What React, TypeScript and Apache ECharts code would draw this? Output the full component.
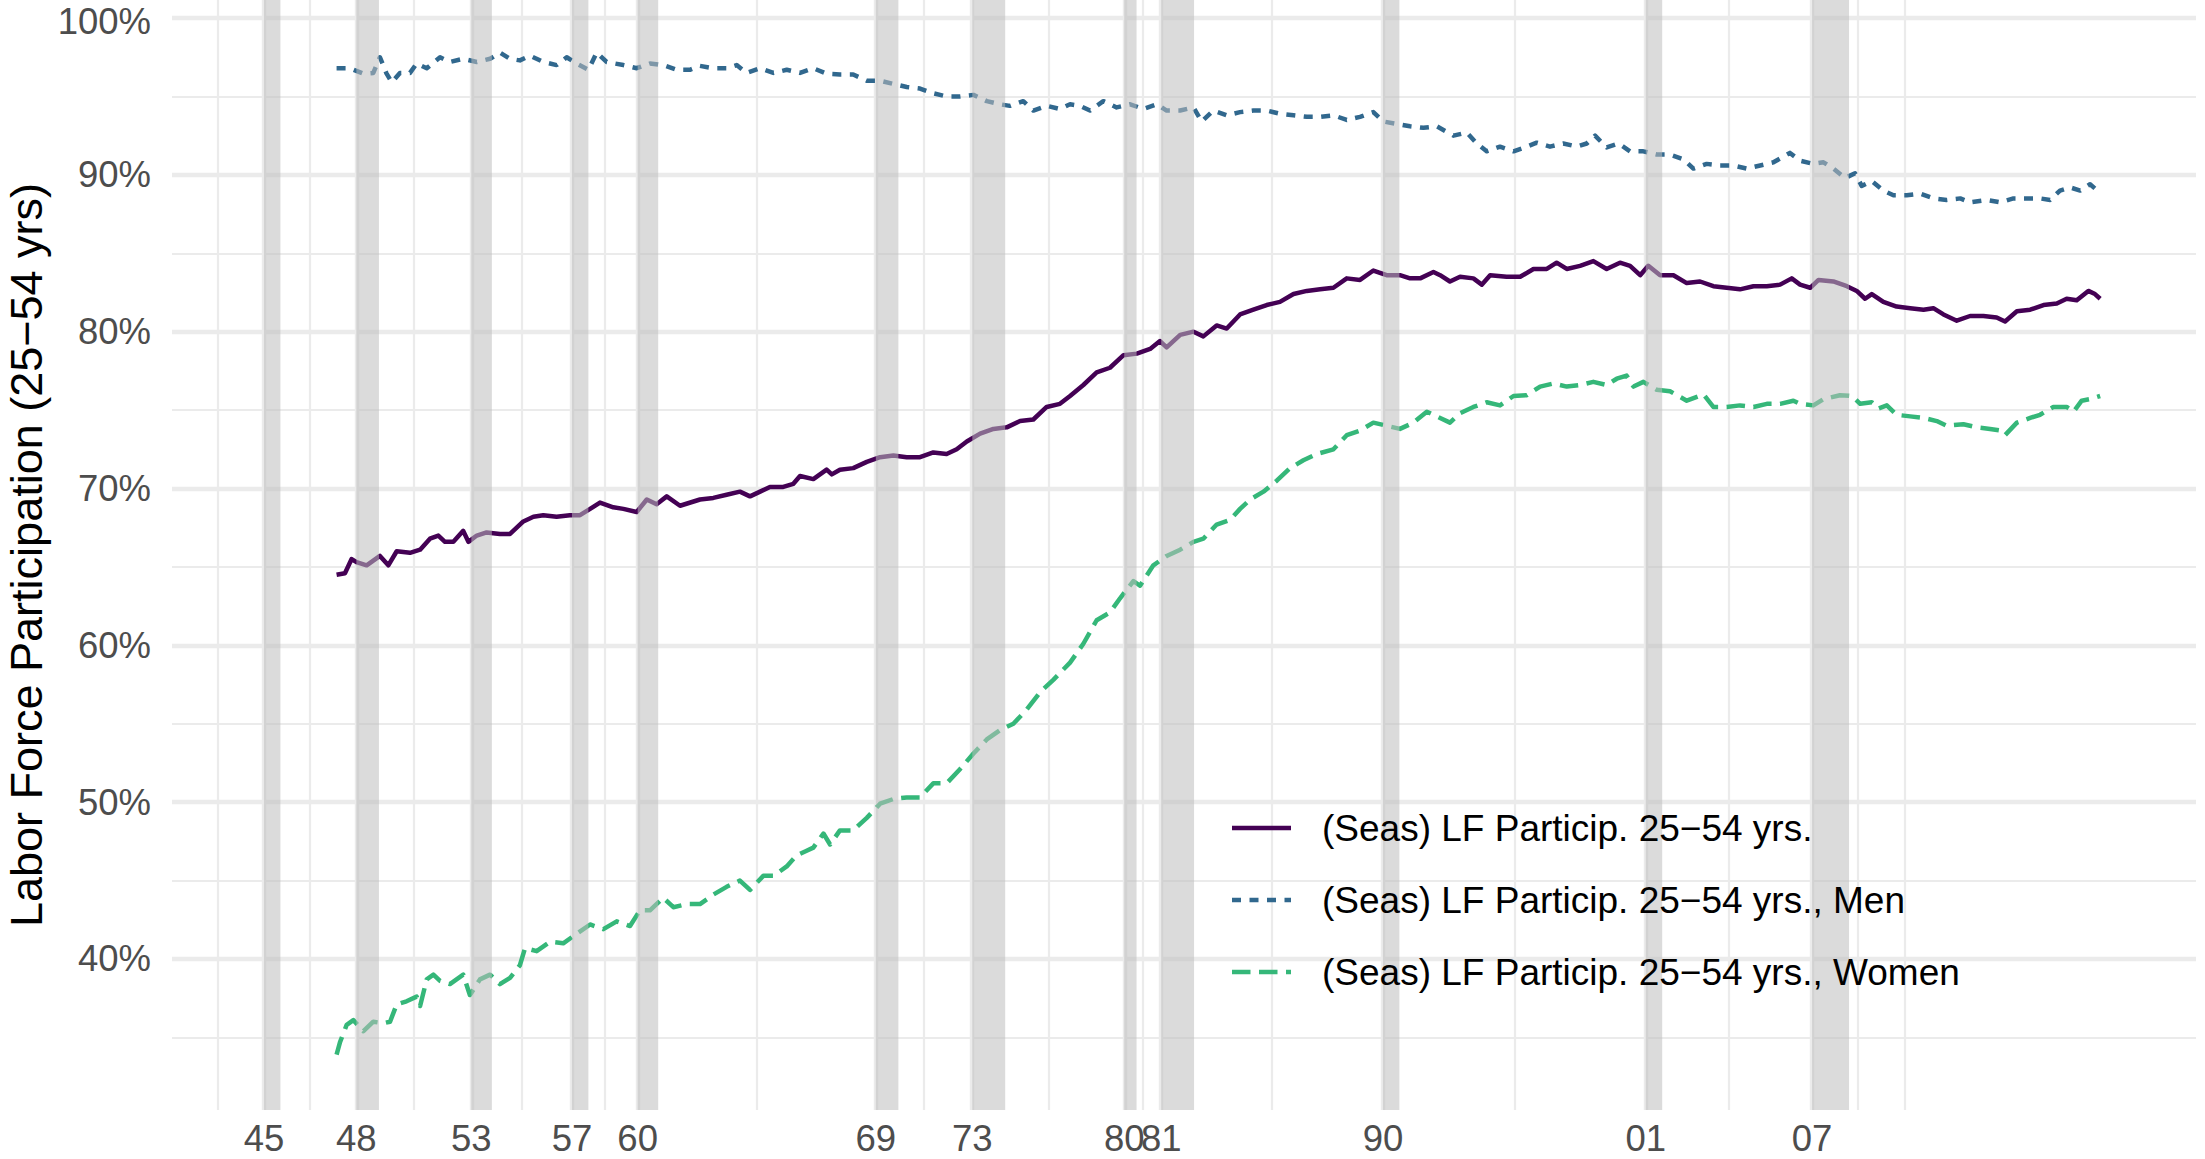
import React, { useEffect, useRef } from "react";
import * as echarts from "echarts";

// ---------- DATA ----------
const recessionStarts = [1945.083, 1948.833, 1953.5, 1957.583, 1960.25, 1969.917, 1973.833, 1980.0, 1981.5, 1990.5, 2001.167, 2007.917];
const recessionEnds = [1945.75, 1949.75, 1954.333, 1958.25, 1961.083, 1970.833, 1975.167, 1980.5, 1982.833, 1991.167, 2001.833, 2009.417];
const yMajorTicks = [40, 50, 60, 70, 80, 90, 100];
const yMinorTicks = [35, 45, 55, 65, 75, 85, 95];
const seriesNames = [
  "(Seas) LF Particip. 25\u221254 yrs.",
  "(Seas) LF Particip. 25\u221254 yrs., Men",
  "(Seas) LF Particip. 25\u221254 yrs., Women",
];
const yTitle = "Labor Force Participation (25\u221254 yrs)";

const totalData = [
  [1948.03, 64.5], [1948.37, 64.6], [1948.64, 65.5], [1948.84, 65.3], [1949.25, 65.1], [1949.79, 65.7], [1950.13, 65.1], [1950.47, 66.0], [1951.01, 65.9], [1951.42, 66.1], [1951.82, 66.8], [1952.16, 67.0], [1952.43, 66.6], [1952.77, 66.6], [1953.17, 67.3], [1953.38, 66.6], [1953.72, 67.0], [1954.12, 67.2], [1954.66, 67.1], [1955.07, 67.1], [1955.61, 67.9], [1956.02, 68.2], [1956.42, 68.3], [1956.96, 68.2], [1957.5, 68.3], [1957.91, 68.3], [1958.32, 68.7], [1958.72, 69.1], [1959.26, 68.8], [1959.67, 68.7], [1960.21, 68.5], [1960.62, 69.3], [1961.02, 69.0], [1961.43, 69.5], [1961.97, 68.9],
  [1962.78, 69.3], [1963.32, 69.4], [1963.86, 69.6], [1964.4, 69.8], [1964.81, 69.5], [1965.22, 69.8], [1965.62, 70.1], [1966.16, 70.1], [1966.57, 70.3], [1966.84, 70.8], [1967.38, 70.6], [1967.92, 71.2], [1968.13, 70.9], [1968.46, 71.2], [1969.0, 71.3], [1969.55, 71.7], [1970.09, 72.0], [1970.63, 72.1], [1971.17, 72.0], [1971.71, 72.0], [1972.25, 72.3], [1972.79, 72.2], [1973.2, 72.5], [1973.61, 73.0], [1974.15, 73.5], [1974.69, 73.8], [1975.23, 73.9], [1975.77, 74.3], [1976.31, 74.4], [1976.85, 75.2], [1977.39, 75.4],
  [1977.8, 75.9], [1978.34, 76.6], [1978.88, 77.4], [1979.42, 77.7], [1979.97, 78.5], [1980.51, 78.6], [1981.05, 78.9], [1981.45, 79.4], [1981.72, 79.0], [1982.27, 79.8], [1982.81, 80.0], [1983.21, 79.7], [1983.75, 80.4], [1984.16, 80.2], [1984.7, 81.1], [1985.24, 81.4], [1985.78, 81.7], [1986.32, 81.9], [1986.87, 82.4], [1987.41, 82.6], [1987.95, 82.7], [1988.49, 82.8], [1989.03, 83.4], [1989.57, 83.3], [1990.11, 83.9], [1990.65, 83.6], [1991.19, 83.6], [1991.6, 83.4], [1992.01, 83.4], [1992.55, 83.8],
  [1992.82, 83.6], [1993.22, 83.2], [1993.63, 83.5], [1994.17, 83.4], [1994.51, 83.0], [1994.85, 83.6], [1995.52, 83.5], [1996.07, 83.5], [1996.61, 84.0], [1997.15, 84.0], [1997.55, 84.4], [1997.96, 84.0], [1998.5, 84.2], [1999.04, 84.5], [1999.58, 84.0], [2000.12, 84.4], [2000.53, 84.2], [2000.94, 83.6], [2001.27, 84.2], [2001.75, 83.6], [2002.29, 83.6], [2002.83, 83.1], [2003.37, 83.2], [2003.91, 82.9], [2004.45, 82.8], [2004.99, 82.7], [2005.54, 82.9], [2006.08, 82.9], [2006.62, 83.0], [2007.09, 83.4],
  [2007.43, 83.0], [2007.84, 82.8], [2008.18, 83.3], [2008.78, 83.2], [2009.33, 82.9], [2009.73, 82.6], [2010.07, 82.1], [2010.34, 82.4], [2010.81, 81.9], [2011.35, 81.6], [2011.9, 81.5], [2012.44, 81.4], [2012.84, 81.5], [2013.25, 81.1], [2013.79, 80.7], [2014.33, 81.0], [2014.87, 81.0], [2015.41, 80.9], [2015.75, 80.65], [2016.23, 81.3], [2016.77, 81.4], [2017.31, 81.7], [2017.85, 81.8], [2018.25, 82.1], [2018.66, 82.0], [2019.13, 82.6], [2019.4, 82.4], [2019.61, 82.1],
];

const menData = [
  [1948.03, 96.8], [1948.57, 96.8], [1949.12, 96.45], [1949.52, 96.5], [1949.79, 97.5], [1950.06, 96.45], [1950.27, 95.9], [1950.6, 96.5], [1951.01, 96.5], [1951.28, 97.1], [1951.69, 96.8], [1952.23, 97.5], [1952.63, 97.2], [1953.17, 97.4], [1953.72, 97.2], [1954.26, 97.4], [1954.66, 97.8], [1955.07, 97.4], [1955.47, 97.3], [1955.88, 97.6], [1956.42, 97.2], [1956.96, 97.0], [1957.37, 97.5], [1957.77, 97.1], [1958.25, 96.7], [1958.59, 97.8], [1958.99, 97.2], [1959.67, 97.0], [1960.21, 96.8], [1960.75, 97.1], [1961.29, 97.0], [1961.83, 96.7], [1962.37, 96.7],
  [1962.78, 96.95], [1963.32, 96.8], [1963.86, 96.8], [1964.27, 97.0], [1964.67, 96.5], [1965.22, 96.8], [1965.76, 96.5], [1966.3, 96.7], [1966.84, 96.5], [1967.38, 96.8], [1967.92, 96.45], [1968.46, 96.4], [1969.0, 96.4], [1969.55, 96.0], [1970.09, 96.0], [1970.63, 95.8], [1971.17, 95.6], [1971.71, 95.5], [1972.25, 95.2], [1972.79, 95.0], [1973.33, 95.0], [1973.88, 95.1], [1974.42, 94.7], [1974.96, 94.5], [1975.36, 94.4], [1975.9, 94.7], [1976.31, 94.1], [1976.85, 94.4], [1977.39, 94.2],
  [1977.8, 94.5], [1978.21, 94.4], [1978.61, 94.1], [1979.15, 94.7], [1979.69, 94.3], [1980.24, 94.5], [1980.78, 94.2], [1981.32, 94.5], [1981.72, 94.1], [1982.27, 94.1], [1982.81, 94.3], [1983.14, 93.4], [1983.62, 94.1], [1984.16, 93.8], [1984.7, 94.0], [1985.24, 94.1], [1985.78, 94.1], [1986.32, 93.9], [1986.87, 93.8], [1987.41, 93.7], [1987.95, 93.7], [1988.49, 93.8], [1989.03, 93.5], [1989.57, 93.7], [1990.11, 94.0], [1990.52, 93.4], [1991.06, 93.25], [1991.6, 93.1], [1992.14, 93.0], [1992.68, 93.1],
  [1993.36, 92.5], [1993.9, 92.7], [1994.31, 92.0], [1994.71, 91.5], [1995.25, 91.8], [1995.8, 91.5], [1996.34, 91.8], [1996.74, 92.05], [1997.28, 91.8], [1997.82, 92.0], [1998.37, 91.8], [1998.77, 92.0], [1999.11, 92.5], [1999.58, 91.75], [2000.06, 92.0], [2000.53, 91.5], [2001.07, 91.5], [2001.61, 91.3], [2002.15, 91.3], [2002.69, 91.0], [2003.1, 90.4], [2003.64, 90.7], [2004.18, 90.6], [2004.72, 90.6], [2005.27, 90.4], [2005.81, 90.6], [2006.35, 90.8], [2007.02, 91.4],
  [2007.43, 90.9], [2007.97, 90.7], [2008.38, 90.8], [2008.78, 90.4], [2009.26, 89.8], [2009.66, 90.1], [2009.93, 89.3], [2010.34, 89.6], [2010.81, 89.0], [2011.22, 88.7], [2011.76, 88.7], [2012.3, 88.8], [2012.84, 88.5], [2013.38, 88.4], [2013.93, 88.5], [2014.33, 88.25], [2015.01, 88.4], [2015.55, 88.25], [2016.09, 88.5], [2016.63, 88.5], [2017.17, 88.5], [2017.58, 88.4], [2017.98, 89.0], [2018.39, 89.2], [2018.8, 89.0], [2019.2, 89.4], [2019.61, 88.85],
];

const womenData = [
  [1948.03, 33.9], [1948.17, 34.7], [1948.44, 35.8], [1948.71, 36.1], [1949.12, 35.4], [1949.52, 36.0], [1949.93, 35.9], [1950.2, 36.0], [1950.47, 37.1], [1950.87, 37.3], [1951.28, 37.6], [1951.42, 37.0], [1951.69, 38.7], [1951.96, 39.0], [1952.23, 38.6], [1952.63, 38.4], [1952.9, 38.7], [1953.17, 39.0], [1953.44, 37.7], [1953.85, 38.7], [1954.26, 39.0], [1954.66, 38.4], [1955.07, 38.8], [1955.47, 39.6], [1955.68, 40.7], [1956.15, 40.5], [1956.69, 41.1], [1957.23, 41.0], [1957.77, 41.6], [1958.32, 42.2], [1958.86, 41.9], [1959.4, 42.4], [1959.94, 42.1], [1960.34, 43.1], [1960.75, 43.1], [1961.29, 43.9], [1961.7, 43.3], [1962.24, 43.5],
  [1962.78, 43.5], [1963.32, 44.1], [1963.86, 44.6], [1964.4, 45.0], [1964.81, 44.4], [1965.35, 45.3], [1965.76, 45.3], [1966.3, 45.9], [1966.7, 46.6], [1967.11, 46.9], [1967.38, 47.1], [1967.79, 48.0], [1968.06, 47.3], [1968.46, 48.2], [1969.0, 48.2], [1969.55, 49.0], [1970.09, 49.9], [1970.63, 50.2], [1971.17, 50.3], [1971.71, 50.3], [1972.25, 51.2], [1972.79, 51.2], [1973.33, 52.1], [1973.88, 53.1], [1974.42, 54.0], [1974.96, 54.6], [1975.5, 55.0], [1976.04, 55.9], [1976.58, 57.0], [1977.12, 57.8],
  [1977.8, 58.9], [1978.34, 60.1], [1978.88, 61.6], [1979.42, 62.1], [1979.83, 63.0], [1980.37, 64.1], [1980.64, 63.8], [1981.18, 65.1], [1981.72, 65.7], [1982.27, 66.1], [1982.81, 66.6], [1983.21, 66.8], [1983.75, 67.7], [1984.29, 68.0], [1984.7, 68.7], [1985.11, 69.3], [1985.65, 69.8], [1986.19, 70.5], [1986.73, 71.3], [1987.27, 71.8], [1987.81, 72.2], [1988.49, 72.5], [1989.03, 73.4], [1989.57, 73.7], [1990.11, 74.2], [1990.65, 74.0], [1991.19, 73.8], [1991.74, 74.2], [1992.28, 74.9],
  [1992.82, 74.5], [1993.22, 74.2], [1993.63, 74.8], [1994.17, 75.2], [1994.71, 75.5], [1995.25, 75.3], [1995.8, 75.9], [1996.34, 75.95], [1996.88, 76.5], [1997.42, 76.7], [1997.96, 76.5], [1998.5, 76.6], [1999.04, 76.8], [1999.58, 76.6], [1999.99, 77.0], [2000.39, 77.2], [2000.67, 76.5], [2001.07, 76.8], [2001.61, 76.3], [2002.15, 76.2], [2002.83, 75.6], [2003.51, 76.0], [2003.91, 75.2], [2004.45, 75.2], [2004.99, 75.3], [2005.54, 75.2], [2006.08, 75.4], [2006.62, 75.4], [2007.16, 75.6],
  [2007.43, 75.4], [2007.97, 75.3], [2008.38, 75.7], [2009.05, 75.95], [2009.53, 75.9], [2009.87, 75.4], [2010.34, 75.5], [2010.61, 75.1], [2010.95, 75.3], [2011.35, 74.7], [2011.9, 74.6], [2012.44, 74.5], [2012.98, 74.3], [2013.38, 74.0], [2014.06, 74.1], [2014.6, 73.9], [2015.14, 73.8], [2015.55, 73.7], [2015.75, 73.4], [2016.23, 74.2], [2016.77, 74.5], [2017.17, 74.7], [2017.71, 75.2], [2018.25, 75.2], [2018.53, 74.9], [2018.86, 75.6], [2019.2, 75.7], [2019.61, 75.9],
];

// ---------- STYLE ----------
const W = 2205;
const H = 1159;
const FONT = '"Liberation Sans", Arial, Helvetica, sans-serif';
const COLORS = ["#440154", "#31688E", "#35B779"];
const DASHES: any[] = ["solid", [9, 8.5], [18.5, 8.5]];
const LINE_W = 4.5;
const GRID_COLOR = "#EBEBEB";
const TICK_COLOR = "#4D4D4D";
const X_MIN = 1941.35;
const X_MAX = 2023.5;
const Y_MIN = 30.37;
const Y_MAX = 101.15;

function minorXBreaks(b: number[]): number[] {
  const bd = b[1] - b[0];
  const ext = [b[0] - bd, ...b, b[b.length - 1] + bd];
  const out: number[] = [];
  for (let i = 0; i < ext.length - 1; i++) out.push((ext[i] + ext[i + 1]) / 2);
  out.push(ext[0], ext[ext.length - 1]);
  return out;
}

function buildOption() {
  const major = { color: GRID_COLOR, width: 4.4, type: "solid" };
  const minor = { color: GRID_COLOR, width: 2.2, type: "solid" };
  const xMinor = minorXBreaks(recessionStarts);

  const gridSeries = {
    type: "line",
    name: "__grid",
    data: [],
    z: 1,
    silent: true,
    markLine: {
      z: 1,
      silent: true,
      animation: false,
      symbol: ["none", "none"],
      label: { show: false },
      emphasis: { disabled: true },
      data: [
        ...yMinorTicks.map((v) => ({ yAxis: v, lineStyle: minor })),
        ...xMinor.map((v) => ({ xAxis: v, lineStyle: minor })),
        ...yMajorTicks.map((v) => ({ yAxis: v, lineStyle: major })),
        ...recessionStarts.map((v) => ({ xAxis: v, lineStyle: major })),
      ],
    },
  };

  const bandSeries = {
    type: "line",
    name: "__bands",
    data: [],
    z: 10,
    silent: true,
    markArea: {
      z: 10,
      silent: true,
      animation: false,
      itemStyle: { color: "rgba(190,190,190,0.55)", borderWidth: 0 },
      emphasis: { disabled: true },
      label: { show: false },
      data: recessionStarts.map((s, i) => [{ xAxis: s }, { xAxis: recessionEnds[i] }]),
    },
  };

  const datasets = [totalData, menData, womenData];
  const lineSeries = datasets.map((d, i) => ({
    type: "line",
    name: seriesNames[i],
    data: d,
    z: 5,
    silent: true,
    showSymbol: false,
    symbol: "none",
    lineStyle: { color: COLORS[i], width: LINE_W, type: DASHES[i], cap: "butt", join: "round" },
    emphasis: { disabled: true },
  }));

  const legendY = [828, 900, 972];
  const legendGraphics: any[] = [];
  seriesNames.forEach((name, i) => {
    legendGraphics.push({
      type: "line",
      shape: { x1: 1232, y1: legendY[i], x2: 1291, y2: legendY[i] },
      style: {
        stroke: COLORS[i],
        lineWidth: LINE_W,
        lineDash: i === 0 ? null : DASHES[i],
        lineCap: "butt",
      },
      z: 20,
    });
    legendGraphics.push({
      type: "text",
      x: 1322,
      y: legendY[i],
      style: {
        text: name,
        fontSize: 37,
        fontFamily: FONT,
        fill: "#000000",
        lineHeight: 40,
        align: "left",
        textAlign: "left",
        verticalAlign: "middle",
        textVerticalAlign: "middle",
      },
      z: 20,
    });
  });

  return {
    animation: false,
    backgroundColor: "#FFFFFF",
    grid: {
      left: 172,
      right: W - 2196,
      top: 0,
      bottom: H - 1110,
      containLabel: false,
      outerBoundsMode: "none",
    },
    xAxis: {
      type: "value",
      min: X_MIN,
      max: X_MAX,
      axisLine: { show: false },
      axisTick: { show: false },
      splitLine: { show: false },
      minorSplitLine: { show: false },
      axisLabel: {
        customValues: recessionStarts,
        formatter: (v: number) => String(Math.floor(v + 1e-6) % 100).padStart(2, "0"),
        fontSize: 36.5,
        fontFamily: FONT,
        color: TICK_COLOR,
        lineHeight: 30,
        margin: 13,
        hideOverlap: false,
      },
    },
    yAxis: {
      type: "value",
      min: Y_MIN,
      max: Y_MAX,
      axisLine: { show: false },
      axisTick: { show: false },
      splitLine: { show: false },
      axisLabel: {
        customValues: yMajorTicks,
        formatter: (v: number) => (v === 100 ? `{top|${v}%}` : `${v}%`),
        fontSize: 36.5,
        fontFamily: FONT,
        color: TICK_COLOR,
        lineHeight: 30,
        margin: 21,
        rich: {
          top: {
            fontSize: 36.5,
            fontFamily: FONT,
            color: TICK_COLOR,
            lineHeight: 30,
            padding: [6, 0, 0, 0],
          },
        },
      },
    },
    graphic: [
      {
        type: "text",
        x: 26,
        y: 555,
        rotation: Math.PI / 2,
        style: {
          text: yTitle,
          fontSize: 45,
          fontFamily: FONT,
          fill: "#000000",
          lineHeight: 40,
          align: "center",
          textAlign: "center",
          verticalAlign: "middle",
          textVerticalAlign: "middle",
        },
        z: 20,
      },
      ...legendGraphics,
    ],
    series: [gridSeries, ...lineSeries, bandSeries],
  };
}

export default function App() {
  const ref = useRef<HTMLDivElement>(null);
  useEffect(() => {
    if (!ref.current) return;
    const chart = echarts.init(ref.current, null, { renderer: "svg" });
    chart.setOption(buildOption() as any);
    return () => chart.dispose();
  }, []);
  return (
    <div
      ref={ref}
      style={{ position: "fixed", left: 0, top: 0, width: W, height: H, background: "#FFFFFF" }}
    />
  );
}
